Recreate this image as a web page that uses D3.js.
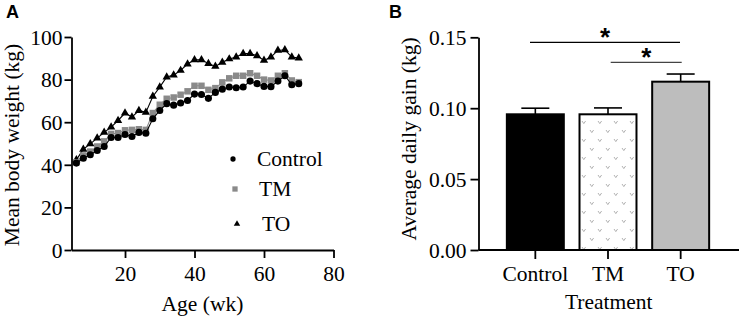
<!DOCTYPE html>
<html><head><meta charset="utf-8">
<script src="https://cdn.jsdelivr.net/npm/d3@7"></script>
<style>html,body{margin:0;padding:0;background:#fff;}svg{display:block;}
.serif{font-family:"Liberation Serif","Times New Roman",Times,serif;}
.sans{font-family:"Liberation Sans",Arial,Helvetica,sans-serif;}
</style>
</head><body>
<svg id="chart" width="740" height="320"></svg>
<script>
// ---- Panel A data ----
const weeks = [6,8,10,12,14,16,18,20,22,24,26,28,30,32,34,36,38,40,42,44,46,48,50,52,54,56,58,60,62,64,66,68,70];
const controlWeight = [40.8,43.1,44.7,46.7,48.6,52.8,52.8,54.2,53.3,55.2,54.8,61.6,65.5,68.7,68.0,69.0,70.2,73.2,73.0,71.2,74.0,75.5,76.5,76.2,76.5,79.3,78.1,76.8,76.7,79.3,81.8,77.6,78.1];
const tmWeight = [41.2,44.4,46.2,48.6,51.0,54.5,54.9,56.2,56.4,56.7,56.4,64.3,68.2,71.0,71.6,72.9,74.5,77.1,77.1,75.2,76.0,78.7,80.6,81.8,81.8,83.0,81.8,80.0,79.6,81.8,83.0,79.6,78.8];
const toWeight = [42.3,47.3,49.8,52.5,55.2,57.7,60.8,64.3,62.4,65.5,64.6,72.1,76.5,81.2,82.1,84.3,87.3,89.3,89.3,87.5,86.2,88.1,89.7,90.6,92.2,92.2,91.2,89.0,90.6,93.7,94.0,90.6,90.1];
const seriesNames = ["Control","TM","TO"];
const ageTicks = [20,40,60,80];
const weightTicks = [0,20,40,60,80,100];

// ---- Panel B data ----
const treatments = ["Control","TM","TO"];
const adgMean = [0.0957,0.0957,0.1187];
const adgErr = [0.0043,0.0045,0.0054];
const adgTicks = [0,0.05,0.10,0.15];
const sigPairs = [["Control","TO"],["TM","TO"]];
const sigLabels = ["*","*"];

const svg = d3.select("#chart");
const FS = "21.5px";

// ================= Panel A =================
const xA = d3.scaleLinear().domain([4.6,80]).range([71.5,333.5]);
const yA = d3.scaleLinear().domain([0,100]).range([250,37]);
const gA = svg.append("g");

const axA_x = gA.append("g").attr("transform","translate(0,250)")
  .call(d3.axisBottom(xA).tickValues(ageTicks).tickSize(8).tickPadding(8).tickSizeOuter(0));
const axA_y = gA.append("g").attr("transform","translate(71.5,0)")
  .call(d3.axisLeft(yA).tickValues(weightTicks).tickSize(7).tickPadding(2).tickSizeOuter(0));
function styleAxis(a){
  a.attr("font-family",null).attr("font-size",null);
  a.select(".domain").attr("stroke","#000").attr("stroke-width",1.8);
  a.selectAll(".tick line").attr("stroke","#000").attr("stroke-width",1.8);
  a.selectAll(".tick text").attr("class","serif").style("font-size",FS).attr("fill","#000");
}
styleAxis(axA_x); styleAxis(axA_y);
axA_y.selectAll(".tick text").attr("dy","0.34em");

const seriesData = [
  {name:"TO", vals:toWeight, color:"#000", shape:"tri"},
  {name:"TM", vals:tmWeight, color:"#8a8a8a", shape:"sq"},
  {name:"Control", vals:controlWeight, color:"#000", shape:"circ"}
];
const line = d3.line().x(d=>xA(d[0])).y(d=>yA(d[1]));
const symFor = s => s==="tri"? d3.symbolTriangle : s==="sq"? d3.symbolSquare : d3.symbolCircle;
const sizeFor = s => s==="tri"? 30 : s==="sq"? 42 : 40;
seriesData.forEach(s=>{
  const pts = weeks.map((w,i)=>[w,s.vals[i]]);
  gA.append("path").attr("d",line(pts)).attr("fill","none").attr("stroke",s.color).attr("stroke-width",1.1);
  gA.selectAll(null).data(pts).enter().append("path")
    .attr("transform",d=>`translate(${xA(d[0])},${yA(d[1])})`)
    .attr("d",d3.symbol().type(symFor(s.shape)).size(sizeFor(s.shape)))
    .attr("fill",s.color);
});

// legend
const legendItems = [
  {name:seriesNames[0], shape:"circ", color:"#000", x:233, y:159, tx:257, size:22},
  {name:seriesNames[1], shape:"sq", color:"#8a8a8a", x:235, y:189, tx:259, size:28},
  {name:seriesNames[2], shape:"tri", color:"#000", x:237, y:224, tx:262, size:18}
];
legendItems.forEach(l=>{
  gA.append("path").attr("transform",`translate(${l.x},${l.y})`)
    .attr("d",d3.symbol().type(symFor(l.shape)).size(l.size)).attr("fill",l.color);
  gA.append("text").attr("x",l.tx).attr("y",l.y+7).attr("class","serif").style("font-size",FS).text(l.name);
});

gA.append("text").attr("x",202.5).attr("y",311).attr("text-anchor","middle")
  .attr("class","serif").style("font-size",FS).text("Age (wk)");
gA.append("text").attr("transform","translate(19,145) rotate(-90)").attr("text-anchor","middle")
  .attr("class","serif").style("font-size",FS).text("Mean body weight (kg)");
svg.append("text").attr("x",6).attr("y",18).attr("class","sans")
  .attr("font-weight","bold").style("font-size","18px").text("A");

// ================= Panel B =================
const xB = d3.scaleBand().domain(treatments).range([499,717]).paddingInner(0.216).paddingOuter(0.108);
const yB = d3.scaleLinear().domain([0,0.15]).range([250,37.3]);
const gB = svg.append("g");

// pattern for TM
const defs = svg.append("defs");
const pat = defs.append("pattern").attr("id","vpat").attr("patternUnits","userSpaceOnUse")
  .attr("width",16).attr("height",18).attr("x",579).attr("y",118);
[[3,3],[11,12]].forEach(p=>{
  pat.append("path").attr("d",`M${p[0]},${p[1]} L${p[0]+1.8},${p[1]+2.6} L${p[0]+3.6},${p[1]}`)
    .attr("fill","none").attr("stroke","#a8a8a8").attr("stroke-width",0.9);
});
const barFill = ["#000","url(#vpat)","#bdbdbd"];

// error bars (upper)
treatments.forEach((t,i)=>{
  const cx = xB(t)+xB.bandwidth()/2;
  gB.append("line").attr("x1",cx).attr("x2",cx).attr("y1",yB(adgMean[i])).attr("y2",yB(adgMean[i]+adgErr[i]))
    .attr("stroke","#000").attr("stroke-width",1.6);
  gB.append("line").attr("x1",cx-14).attr("x2",cx+14).attr("y1",yB(adgMean[i]+adgErr[i])).attr("y2",yB(adgMean[i]+adgErr[i]))
    .attr("stroke","#000").attr("stroke-width",1.6);
});
gB.selectAll("rect.bar").data(treatments).enter().append("rect").attr("class","bar")
  .attr("x",d=>xB(d)).attr("width",xB.bandwidth())
  .attr("y",(d,i)=>yB(adgMean[i])).attr("height",(d,i)=>yB(0)-yB(adgMean[i]))
  .attr("fill",(d,i)=>barFill[i]).attr("stroke","#000").attr("stroke-width",2);

const axB_x = gB.append("g").attr("transform","translate(0,250)")
  .call(d3.axisBottom(xB).tickSize(9).tickPadding(7).tickSizeOuter(0));
axB_x.select(".domain").attr("d","M478.5,0H739");
const axB_y = gB.append("g").attr("transform","translate(478.5,0)")
  .call(d3.axisLeft(yB).tickValues(adgTicks).tickFormat(d3.format(".2f")).tickSize(8).tickPadding(4).tickSizeOuter(0));
styleAxis(axB_x); styleAxis(axB_y);
axB_y.selectAll(".tick text").attr("dy","0.34em");

// significance
const sigY = [42.3,62.3];
const sigX = [[530,680],[610.7,681.7]];
const sigColors = ["#000","#444"];
sigPairs.forEach((p,i)=>{
  gB.append("line").attr("x1",sigX[i][0]).attr("x2",sigX[i][1]).attr("y1",sigY[i]).attr("y2",sigY[i])
    .attr("stroke",sigColors[i]).attr("stroke-width",1.2);
  gB.append("text").attr("x",(sigX[i][0]+sigX[i][1])/2).attr("y",sigY[i]+4).attr("text-anchor","middle")
    .attr("class","sans").attr("font-weight","bold").style("font-size","26px")
    .text(sigLabels[i]);
});

gB.append("text").attr("x",608.7).attr("y",309).attr("text-anchor","middle")
  .attr("class","serif").style("font-size",FS).text("Treatment");
gB.append("text").attr("transform","translate(416,139) rotate(-90)").attr("text-anchor","middle")
  .attr("class","serif").style("font-size",FS).text("Average daily gain (kg)");
svg.append("text").attr("x",389).attr("y",18).attr("class","sans")
  .attr("font-weight","bold").style("font-size","18px").text("B");
</script>
</body></html>
